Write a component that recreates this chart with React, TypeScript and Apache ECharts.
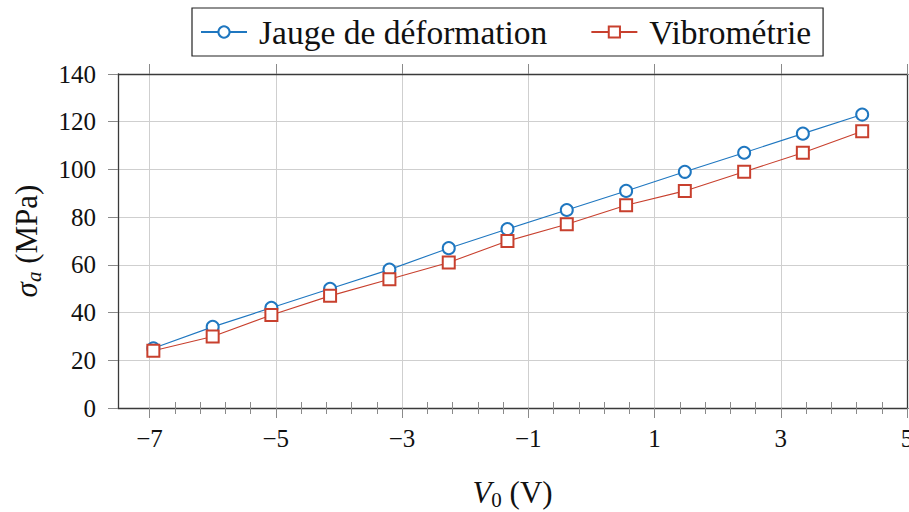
import React, { useEffect, useRef } from "react";
import * as echarts from "echarts";

const xValues = [-6.94, -6.0, -5.07, -4.14, -3.2, -2.26, -1.33, -0.39, 0.55, 1.48, 2.42, 3.35, 4.29];
const jaugeValues = [25, 34, 42, 50, 58, 67, 75, 83, 91, 99, 107, 115, 123];
const vibroValues = [24, 30, 39, 47, 54, 61, 70, 77, 85, 91, 99, 107, 116];
const xMajorTicks = [-7, -5, -3, -1, 1, 3, 5];
const xMinorTicks = [
  -6.6, -6.2, -5.8, -5.4, -4.6, -4.2, -3.8, -3.4, -2.6, -2.2, -1.8, -1.4,
  -0.6, -0.2, 0.2, 0.6, 1.4, 1.8, 2.2, 2.6, 3.4, 3.8, 4.2, 4.6,
];
const seriesNames = ["Jauge de déformation", "Vibrométrie"];

const FONT = "'Liberation Serif', 'Times New Roman', serif";
const BLUE = "#1f77c0";
const RED = "#c8402e";
const AXIS = "#3a3a3a";
const TICK = "#8a8a8a";
const GRIDC = "#cfcfcf";

export default function App() {
  const ref = useRef<HTMLDivElement>(null);
  useEffect(() => {
    document.body.style.margin = "0";
    if (!ref.current) return;
    const chart = echarts.init(ref.current, undefined, { renderer: "svg" });
    const xBase = { type: "value", min: -7.5, max: 5 };
    const majorTick = { show: true, inside: false, length: 10, customValues: xMajorTicks, lineStyle: { color: TICK, width: 1 } };
    const minorTick = { show: true, inside: false, length: 6, customValues: xMinorTicks, lineStyle: { color: TICK, width: 1 } };
    chart.setOption({
      animation: false,
      backgroundColor: "#ffffff",
      textStyle: { fontFamily: FONT },
      grid: { left: 118, right: 2, top: 74, bottom: 104, containLabel: false, outerBoundsMode: "none" },
      legend: {
        left: 192,
        top: 8,
        orient: "horizontal",
        padding: [7, 12, 7, 8],
        itemGap: 43,
        itemWidth: 46,
        itemHeight: 14,
        borderColor: "#222",
        borderWidth: 1.2,
        borderRadius: 0,
        textStyle: { fontFamily: FONT, fontSize: 33.5, color: "#111", padding: [0, 0, 0, 7] },
        data: seriesNames,
      },
      xAxis: [
        {
          ...xBase,
          position: "bottom",
          axisLine: { show: true, onZero: false, lineStyle: { color: AXIS, width: 1.3 } },
          axisTick: majorTick,
          axisLabel: {
            customValues: xMajorTicks,
            fontFamily: FONT,
            fontSize: 25,
            color: "#111",
            margin: 18,
            formatter: (v: number) => (v < 0 ? "\u2212" + Math.abs(v) : String(v)),
          },
          splitLine: { show: true, lineStyle: { color: GRIDC, width: 1 } },
          name: "{i|V}{s|0}{n| (V)}",
          nameLocation: "middle",
          nameGap: 66,
          nameTextStyle: {
            fontFamily: FONT,
            fontSize: 31,
            color: "#111",
            rich: {
              i: { fontFamily: FONT, fontSize: 31, fontStyle: "italic", lineHeight: 36, color: "#111" },
              s: { fontFamily: FONT, fontSize: 21, lineHeight: 36, verticalAlign: "bottom", color: "#111" },
              n: { fontFamily: FONT, fontSize: 31, lineHeight: 36, color: "#111" },
            },
          },
        },
        {
          ...xBase,
          position: "top",
          axisLine: { show: true, onZero: false, lineStyle: { color: AXIS, width: 1.3 } },
          axisTick: majorTick,
          axisLabel: { show: false },
          splitLine: { show: false },
        },
        {
          ...xBase,
          position: "bottom",
          axisLine: { show: false },
          axisTick: minorTick,
          axisLabel: { show: false },
          splitLine: { show: false },
        },
        {
          ...xBase,
          position: "top",
          axisLine: { show: false },
          axisTick: minorTick,
          axisLabel: { show: false },
          splitLine: { show: false },
        },
      ],
      yAxis: [
        {
          type: "value",
          min: 0,
          max: 140,
          interval: 20,
          position: "left",
          axisLine: { show: true, onZero: false, lineStyle: { color: AXIS, width: 1.3 } },
          axisTick: { show: true, inside: false, length: 10, lineStyle: { color: TICK, width: 1 } },
          axisLabel: { fontFamily: FONT, fontSize: 25, color: "#111", margin: 22 },
          splitLine: { show: true, lineStyle: { color: GRIDC, width: 1 } },
          name: "{i|σ}{s|a}{n| (MPa)}",
          nameLocation: "middle",
          nameGap: 74,
          nameRotate: 90,
          nameTextStyle: {
            fontFamily: FONT,
            fontSize: 31,
            color: "#111",
            rich: {
              i: { fontFamily: FONT, fontSize: 31, fontStyle: "italic", lineHeight: 36, color: "#111" },
              s: { fontFamily: FONT, fontSize: 21, fontStyle: "italic", lineHeight: 36, verticalAlign: "bottom", color: "#111" },
              n: { fontFamily: FONT, fontSize: 31, lineHeight: 36, color: "#111" },
            },
          },
        },
        {
          type: "value",
          min: 0,
          max: 140,
          interval: 20,
          position: "right",
          axisLine: { show: true, onZero: false, lineStyle: { color: AXIS, width: 1.3 } },
          axisTick: { show: true, inside: false, length: 6, lineStyle: { color: TICK, width: 1 } },
          axisLabel: { show: false },
          splitLine: { show: false },
        },
      ],
      series: [
        {
          name: seriesNames[0],
          type: "line",
          data: xValues.map((x, i) => [x, jaugeValues[i]]),
          showSymbol: true,
          symbol: "emptyCircle",
          symbolSize: 12,
          lineStyle: { color: BLUE, width: 1.1, type: "solid" },
          itemStyle: { color: BLUE, borderColor: BLUE, borderWidth: 1.1 },
        },
        {
          name: seriesNames[1],
          type: "line",
          data: xValues.map((x, i) => [x, vibroValues[i]]),
          showSymbol: true,
          symbol: "emptyRect",
          symbolSize: 12,
          lineStyle: { color: RED, width: 1.1, type: "solid" },
          itemStyle: { color: RED, borderColor: RED, borderWidth: 1.1 },
        },
      ],
    });
    return () => chart.dispose();
  }, []);
  return <div ref={ref} style={{ width: 909, height: 512 }} />;
}
